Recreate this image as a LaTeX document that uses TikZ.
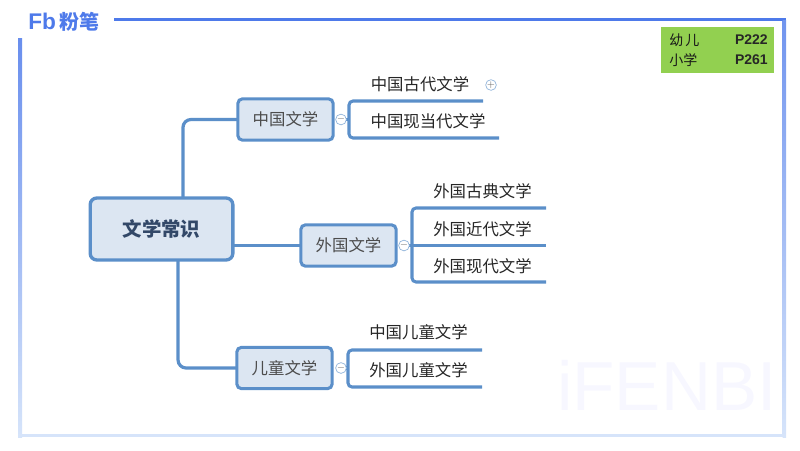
\documentclass[tikz,border=0pt]{standalone}
\usepackage{fontspec}
\usepackage{xcolor}
\newfontfamily\cjk{Noto Sans CJK SC}
\newfontfamily\latin{Liberation Sans}
\definecolor{mapline}{RGB}{91,143,201}
\definecolor{mapfill}{RGB}{220,230,242}
\definecolor{maptext}{RGB}{50,72,104}
\definecolor{framea}{RGB}{78,122,234}
\definecolor{frameb}{RGB}{214,228,250}
\definecolor{pagegreen}{RGB}{146,208,80}
\tikzset{
	rootbox/.style={draw=mapline,fill=mapfill,line width=2.5pt,rounded corners=5pt,outer sep=0pt,minimum width=107pt,minimum height=46.5pt,text=maptext,font=\cjk\bfseries\fontsize{14.6}{16}\selectfont},
	topicbox/.style={draw=mapline,fill=mapfill,line width=2.3pt,rounded corners=3.5pt,outer sep=0pt,minimum width=71.5pt,minimum height=31pt,text=black!70,font=\cjk\fontsize{12.3}{14}\selectfont},
	leaftext/.style={inner sep=0.75pt,text=black!85,font=\cjk\fontsize{12.3}{14}\selectfont},
	branch/.style={draw=mapline,line width=2.4pt,rounded corners=6pt},
	twig/.style={draw=mapline,line width=2.3pt,rounded corners=3pt},
	toggle/.style={circle,draw=mapline!70,fill=white,line width=0.5pt,inner sep=0pt,minimum size=7.5pt,font=\latin\fontsize{7}{7}\selectfont,text=black!60},
	pagetext/.style={inner sep=0pt,text=black!90,font=\cjk\fontsize{10.5}{12}\selectfont},
	pagenum/.style={inner sep=0pt,text=black!85,font=\latin\bfseries\fontsize{10.5}{12}\selectfont},
}
\begin{document}
\begin{tikzpicture}[x=0.75pt,y=0.75pt,yscale=-1,xscale=1]
	\useasboundingbox (0,0) rectangle (800,450);

	%Watermark
	\draw (667,385) node [inner sep=0pt,text=blue!3,font=\latin\fontsize{52}{52}\selectfont] (mark) {iFENBI};

	%Frame
	\fill [framea] (114,17.5) rectangle (786,20.5);
	\shade [top color=framea!80!white,bottom color=frameb] (782.5,20) rectangle (786,437);
	\shade [top color=framea!85!white,bottom color=frameb] (18,38) rectangle (22,437);
	\fill [frameb] (18,433.5) rectangle (786,437);

	% Text Node
	\draw (64,22) node [inner sep=0pt,text=framea,font=\latin\bfseries\fontsize{17}{18}\selectfont] (logo) {Fb\,\cjk\bfseries\fontsize{15}{16}\selectfont 粉笔};

	%Page box
	\draw (717.5,50) node [fill=pagegreen,inner sep=0pt,minimum width=84.75pt,minimum height=34.5pt] (pagebox) {};
	\draw (669,40) node [anchor=west,pagetext] (youer) {幼\hspace{1.6pt}儿};
	\draw (669,60) node [anchor=west,pagetext] (xiaoxue) {小学};
	\draw (768,40) node [anchor=east,pagenum] (pagea) {P222};
	\draw (768,60) node [anchor=east,pagenum] (pageb) {P261};

	% Boxes
	\draw (161.5,229) node [rootbox] (root) {文学常识};
	\draw (285.5,119.5) node [topicbox] (zhongguo) {中国文学};
	\draw (348.5,245.5) node [topicbox] (waiguo) {外国文学};
	\draw (284.5,368) node [topicbox] (ertong) {儿童文学};

	% Text Node
	\draw (420,84) node [leaftext] (gudai) {中国古代文学};
	\draw (428,121) node [leaftext] (xiandang) {中国现当代文学};
	\draw (482.5,191) node [leaftext] (gudian) {外国古典文学};
	\draw (482.5,229) node [leaftext] (jindai) {外国近代文学};
	\draw (482.5,266) node [leaftext] (xiandai) {外国现代文学};
	\draw (418.5,332) node [leaftext] (zgertong) {中国儿童文学};
	\draw (418.5,370) node [leaftext] (wgertong) {外国儿童文学};

	% Line ends
	\coordinate (enda) at (483,101);
	\coordinate (endb) at (499,138);
	\coordinate (endc) at (546,208);
	\coordinate (endd) at (546,245.5);
	\coordinate (ende) at (546,282);
	\coordinate (endf) at (482,350);
	\coordinate (endg) at (482,387);

	%Straight Lines
	\draw [branch] ([xshift=16.1pt]root.north) |- (zhongguo.west);
	\draw [branch] (root.east |- waiguo.west) -- (waiguo.west);
	\draw [branch] ([xshift=12.4pt]root.south) |- (ertong.west);

	\draw [twig] (341,119.5) -- (349,119.5);
	\draw [twig] (enda) -- (349,101) -- (349,138) -- (endb);
	\draw [twig] (404,245.5) -- (endd);
	\draw [twig] (endc) -- (412,208) -- (412,282) -- (ende);
	\draw [twig] (341,368) -- (348,368);
	\draw [twig] (endf) -- (348,350) -- (348,387) -- (endg);

	% Toggles
	\draw (341,119.5) node [toggle] (togglea) {$-$};
	\draw (404,245.5) node [toggle] (toggleb) {$-$};
	\draw (341,368) node [toggle] (togglec) {$-$};
	\draw (491,85) node [toggle,minimum size=6.5pt] (togglep) {$+$};

\end{tikzpicture}
\end{document}
